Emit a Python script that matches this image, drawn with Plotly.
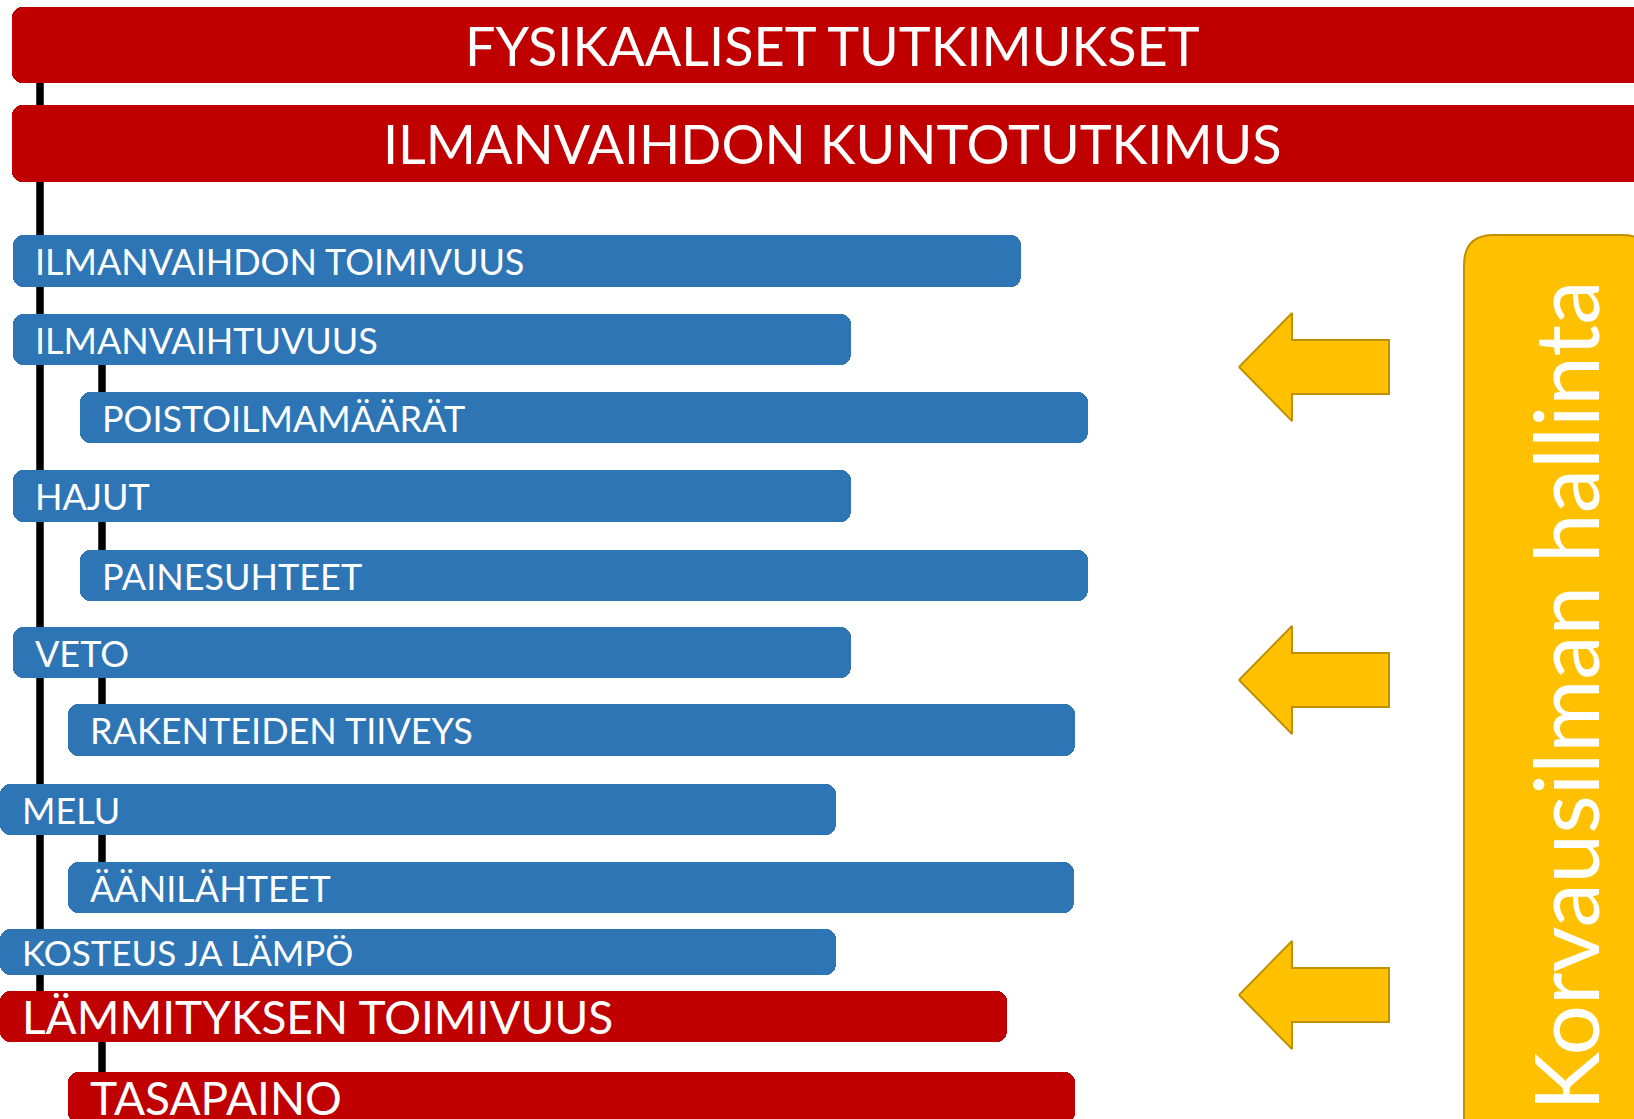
import plotly.graph_objects as go

# ---------------- data ----------------
labels = ["FYSIKAALISET TUTKIMUKSET", "ILMANVAIHDON KUNTOTUTKIMUS", "ILMANVAIHDON TOIMIVUUS",
          "ILMANVAIHTUVUUS", "POISTOILMAMÄÄRÄT", "HAJUT", "PAINESUHTEET", "VETO",
          "RAKENTEIDEN TIIVEYS", "MELU", "ÄÄNILÄHTEET", "KOSTEUS JA LÄMPÖ",
          "LÄMMITYKSEN TOIMIVUUS", "TASAPAINO"]
groups = ["header", "header", "blue", "blue", "blue", "blue", "blue", "blue",
          "blue", "blue", "blue", "blue", "red", "red"]
levels = [0, 0, 1, 1, 2, 1, 2, 1, 2, 1, 2, 1, 1, 2]
bar_start = [12, 12, 13, 13, 80, 13, 80, 13, 68, 0, 68, 0, 0, 68]
bar_end = [1652, 1652, 1021, 851, 1088, 851, 1088, 851, 1075, 836, 1074, 836, 1007, 1075]
row_top = [7, 105, 235, 314, 392, 470, 550, 627, 704, 784, 862, 929, 991, 1072]
row_bottom = [83, 182, 287, 365, 443, 522, 601, 678, 756, 835, 913, 975, 1042, 1123]

side_label = "Korvausilman hallinta"
arrow_rows = [367, 680, 995]

# ---------------- styles ----------------
W, H = 1634, 1119
colors = {"header": "#C00000", "blue": "#2E75B6", "red": "#C00000"}
font_sizes = {"header": 54, "blue": 36, "red": 46}
font_override = {"KOSTEUS JA LÄMPÖ": 35}
FONT = "Lato"
TEXT_PAD = 20
TRUNK_X = 40
BRANCH_X = 102
LINE_W = 7.5
RADIUS = 10
YELLOW = "#FFC000"
YELLOW_EDGE = "#BF9000"

fig = go.Figure()

centers = [(t + b) / 2 for t, b in zip(row_top, row_bottom)]
thick = [b - t for t, b in zip(row_top, row_bottom)]
cols = [colors[g] for g in groups]

# connector lines: trunk visible in gaps between level<=1 bars, branches to level-2 bars
trunk_x, trunk_y = [], []
upper = [i for i, l in enumerate(levels) if l <= 1]
for a, b in zip(upper[:-1], upper[1:]):
    trunk_x += [TRUNK_X, TRUNK_X, None]
    trunk_y += [row_bottom[a], row_top[b], None]
branch_x, branch_y = [], []
for i, l in enumerate(levels):
    if l == 2:
        branch_x += [BRANCH_X, BRANCH_X, None]
        branch_y += [row_bottom[i - 1], row_top[i], None]
for xs, ys in [(trunk_x, trunk_y), (branch_x, branch_y)]:
    fig.add_trace(go.Scatter(x=xs, y=ys, mode="lines",
                             line=dict(color="black", width=LINE_W),
                             hoverinfo="skip", showlegend=False))

# bars: two heavily overlapping parts so both ends get rounded corners
OV = 3 * RADIUS
fig.add_trace(go.Bar(orientation="h", y=centers, width=thick,
                     base=[s + OV for s in bar_start],
                     x=[e - (s + OV) for s, e in zip(bar_start, bar_end)],
                     marker=dict(color=cols, cornerradius=RADIUS, line=dict(width=0)),
                     hoverinfo="skip", showlegend=False))
fig.add_trace(go.Bar(orientation="h", y=centers, width=thick,
                     base=[e - OV for e in bar_end],
                     x=[s - (e - OV) for s, e in zip(bar_start, bar_end)],
                     marker=dict(color=cols, cornerradius=RADIUS, line=dict(width=0)),
                     hoverinfo="skip", showlegend=False))

# arrows
for c in arrow_rows:
    ax = [1239, 1292, 1292, 1389, 1389, 1292, 1292, 1239]
    ay = [c, c - 54, c - 27, c - 27, c + 27, c + 27, c + 54, c]
    fig.add_trace(go.Scatter(x=ax, y=ay, mode="lines", fill="toself",
                             fillcolor=YELLOW, line=dict(color=YELLOW_EDGE, width=2),
                             hoverinfo="skip", showlegend=False))

# side box
x0, x1, y0, y1, r = 1464, 1652, 235, 1140, 30
fig.add_shape(type="path", xref="x", yref="y", layer="below",
              path=(f"M {x0},{y1} L {x0},{y0 + r} Q {x0},{y0} {x0 + r},{y0} "
                    f"L {x1 - r},{y0} Q {x1},{y0} {x1},{y0 + r} L {x1},{y1} Z"),
              fillcolor=YELLOW, line=dict(color=YELLOW_EDGE, width=2))
fig.add_annotation(x=1564, y=696, text=side_label, textangle=-90, showarrow=False,
                   xref="x", yref="y", font=dict(family=FONT, size=89, color="white"))

# labels
for i, lab in enumerate(labels):
    fs = font_override.get(lab, font_sizes[groups[i]])
    if groups[i] == "header":
        fig.add_annotation(x=832, y=centers[i], text=lab, showarrow=False,
                           xanchor="center", xref="x", yref="y",
                           font=dict(family=FONT, size=fs, color="white"))
    else:
        fig.add_annotation(x=bar_start[i] + TEXT_PAD, y=centers[i], text=lab,
                           showarrow=False, xanchor="left", xref="x", yref="y",
                           font=dict(family=FONT, size=fs, color="white"))

fig.update_layout(width=W, height=H, autosize=False,
                  margin=dict(l=0, r=0, t=0, b=0),
                  paper_bgcolor="white", plot_bgcolor="white",
                  barmode="overlay", bargap=0, showlegend=False)
fig.update_xaxes(range=[0, W], visible=False, fixedrange=True)
fig.update_yaxes(range=[H, 0], visible=False, fixedrange=True)

fig.write_html("out.html", config={"displayModeBar": False},
               post_script="document.body.style.margin='0';document.body.style.overflow='hidden';")
